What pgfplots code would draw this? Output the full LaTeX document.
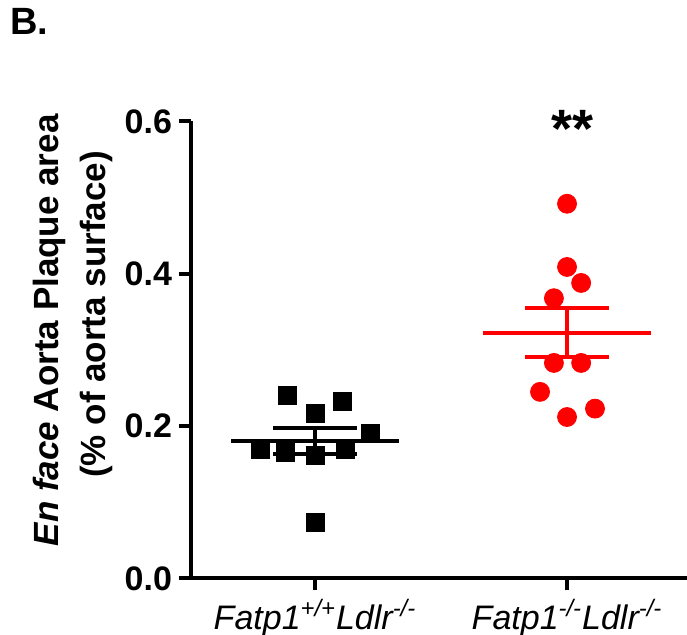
\documentclass[border=0pt]{standalone}
\usepackage{pgfplots}
\pgfplotsset{compat=1.18}
\usepackage{fontspec}
\setmainfont{Liberation Sans}
\begin{document}
\begin{tikzpicture}
\useasboundingbox (-95.5pt,-28.25pt) rectangle (248pt,289.25pt);
\begin{axis}[
  at={(0pt,0pt)}, anchor=south west,
  scale only axis, width=248pt, height=228.5pt,
  xmin=0.508, xmax=2.476, ymin=0, ymax=0.6,
  axis x line=bottom, axis y line=left,
  axis line style={line width=2pt, -},
  xtick={1,2},
  xticklabels={Fatp1\textsuperscript{+/+}Ldlr\textsuperscript{-/-}, Fatp1\textsuperscript{-/-}Ldlr\textsuperscript{-/-}},
  ytick={0,0.2,0.4,0.6},
  tick align=outside, major tick length=6pt,
  tick style={line width=2pt, black},
  yticklabel style={font=\fontsize{17}{20}\selectfont\bfseries, /pgf/number format/.cd, fixed, fixed zerofill, precision=1, assume math mode=true},
  xticklabel style={font=\fontsize{17}{20}\selectfont\itshape, yshift=-1pt},
  ylabel={{\itshape En face} Aorta Plaque area\\\hspace*{16pt}(\% of aorta surface)},
  ylabel style={font=\fontsize{17.5}{23.5}\selectfont\bfseries, align=center, at={(axis description cs:-0.238,0.543)}, anchor=center},
  clip=false,
]
\addplot[only marks, mark=square*, mark size=4.5pt, black] coordinates {
  (0.889,0.241) (1.0,0.217) (1.107,0.232) (1.218,0.191) (0.782,0.169)
  (0.881,0.165) (1.0,0.162) (1.119,0.169) (1.0,0.074)
};
\addplot[black, line width=2pt, no marks] coordinates {(0.667,0.181) (1.333,0.181)};
\addplot[black, line width=2pt, no marks] coordinates {(0.833,0.198) (1.167,0.198)};
\addplot[black, line width=2pt, no marks] coordinates {(0.833,0.164) (1.167,0.164)};
\addplot[black, line width=2pt, no marks] coordinates {(1,0.164) (1,0.198)};
\addplot[only marks, mark=*, mark size=4.75pt, red, mark options={draw=red, fill=red}] coordinates {
  (2.0,0.492) (2.0,0.409) (2.056,0.388) (1.948,0.368) (1.948,0.283)
  (2.056,0.283) (1.893,0.245) (2.111,0.223) (2.0,0.212)
};
\addplot[red, line width=2pt, no marks] coordinates {(1.665,0.322) (2.335,0.322)};
\addplot[red, line width=2pt, no marks] coordinates {(1.835,0.355) (2.165,0.355)};
\addplot[red, line width=2pt, no marks] coordinates {(1.835,0.291) (2.165,0.291)};
\addplot[red, line width=2pt, no marks] coordinates {(2,0.291) (2,0.355)};
\node[anchor=base, font=\fontsize{27}{30}\selectfont\bfseries] at (axis cs:2.02,0.566) {**};
\end{axis}
\node[anchor=base west, inner sep=0pt, font=\fontsize{19}{22}\selectfont\bfseries] at (-90.5pt,271.75pt) {B.};
\end{tikzpicture}
\end{document}
